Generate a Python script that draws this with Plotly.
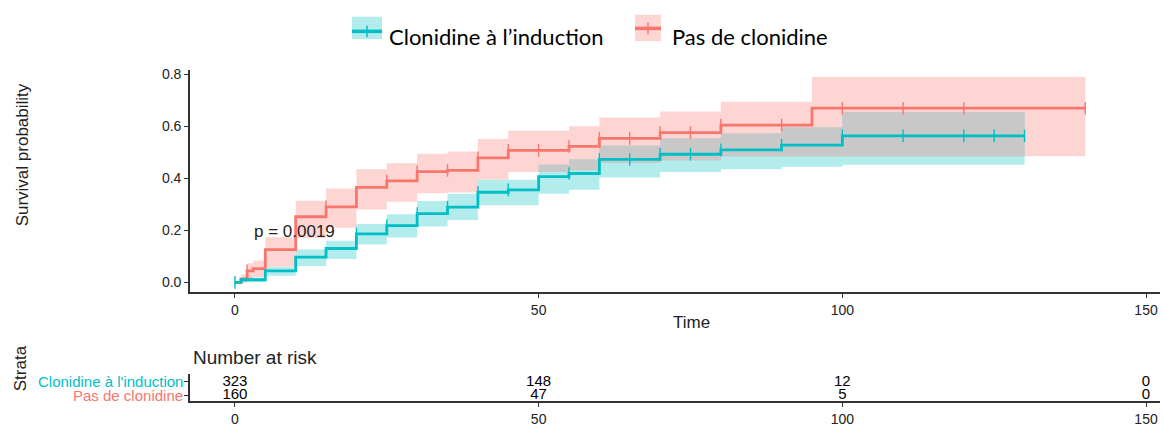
import numpy as np
import plotly.graph_objects as go

# ---------------- data ----------------
groups = ["Clonidine à l’induction", "Pas de clonidine"]
strata_labels = ["Clonidine à l'induction", "Pas de clonidine"]

times_clon = [0, 1, 5, 10, 15, 20, 25, 30, 35, 40, 45, 50, 55, 60, 70, 80, 90, 100, 130]
surv_clon = [0, 0.01, 0.044, 0.097, 0.13, 0.186, 0.218, 0.264, 0.289, 0.346, 0.355, 0.406, 0.418, 0.472, 0.492, 0.509, 0.527, 0.563, 0.563]
upper_clon = [0, 0.019, 0.059, 0.126, 0.16, 0.224, 0.262, 0.312, 0.34, 0.394, 0.394, 0.452, 0.472, 0.525, 0.553, 0.572, 0.595, 0.654, 0.654]
lower_clon = [0, 0.0, 0.025, 0.063, 0.09, 0.145, 0.172, 0.214, 0.239, 0.296, 0.296, 0.34, 0.356, 0.403, 0.424, 0.434, 0.444, 0.452, 0.452]
censor_clon = [0, 20, 25, 30, 35, 40, 45, 55, 60, 65, 70, 75, 80, 90, 100, 110, 120, 125, 130]

times_pas = [0, 1, 2, 3, 5, 10, 15, 20, 25, 30, 35, 40, 45, 55, 60, 70, 80, 95, 140]
surv_pas = [0, 0.012, 0.044, 0.053, 0.126, 0.252, 0.29, 0.365, 0.39, 0.425, 0.43, 0.478, 0.507, 0.522, 0.553, 0.575, 0.604, 0.669, 0.669]
upper_pas = [0, 0.03, 0.073, 0.084, 0.173, 0.313, 0.36, 0.434, 0.457, 0.494, 0.503, 0.551, 0.582, 0.6, 0.633, 0.656, 0.694, 0.789, 0.789]
lower_pas = [0, 0.0, 0.013, 0.02, 0.06, 0.17, 0.21, 0.28, 0.31, 0.342, 0.345, 0.395, 0.424, 0.431, 0.459, 0.469, 0.484, 0.484, 0.484]
censor_pas = [2, 15, 25, 30, 35, 40, 45, 50, 55, 60, 65, 70, 75, 80, 90, 100, 110, 120, 140]

risk_times = [0, 50, 100, 150]
risk_clon = [323, 148, 12, 0]
risk_pas = [160, 47, 5, 0]

pval_text = "p = 0.0019"
pval_pos = (2.8, 0.195)

# ---------------- style ----------------
TEAL = "#00BFC4"
RED = "#F8766D"
TEAL_FILL = "rgba(0,191,196,0.3)"
RED_FILL = "rgba(248,118,109,0.3)"
GREY_FILL = "rgb(200,200,200)"
W, H = 1164, 427
FONT = "Liberation Sans, Arial, sans-serif"
AX = "#333333"
ROW_Y = [1.4, 0.45]   # vertical slots of the two strata rows in the risk table


def step_at(times, vals, t):
    idx = np.searchsorted(np.asarray(times), np.asarray(t), side="right") - 1
    return np.asarray(vals)[idx]


fig = go.Figure()

# confidence bands
for t, lo, up, fill in [(times_pas, lower_pas, upper_pas, RED_FILL),
                        (times_clon, lower_clon, upper_clon, TEAL_FILL)]:
    fig.add_trace(go.Scatter(x=t, y=lo, mode="lines", line=dict(width=0, shape="hv"),
                             hoverinfo="skip", showlegend=False))
    fig.add_trace(go.Scatter(x=t, y=up, mode="lines", line=dict(width=0, shape="hv"),
                             fill="tonexty", fillcolor=fill, hoverinfo="skip", showlegend=False))

# overlap of the two bands (grey)
t_end = min(times_clon[-1], times_pas[-1])
t_all = sorted(set([x for x in times_clon + times_pas if x <= t_end]))
ov_lo = np.maximum(step_at(times_clon, lower_clon, t_all), step_at(times_pas, lower_pas, t_all))
ov_hi = np.minimum(step_at(times_clon, upper_clon, t_all), step_at(times_pas, upper_pas, t_all))
ov_hi = np.maximum(ov_hi, ov_lo)
fig.add_trace(go.Scatter(x=t_all, y=ov_lo, mode="lines", line=dict(width=0, shape="hv"),
                         hoverinfo="skip", showlegend=False))
fig.add_trace(go.Scatter(x=t_all, y=ov_hi, mode="lines", line=dict(width=0, shape="hv"),
                         fill="tonexty", fillcolor=GREY_FILL, hoverinfo="skip", showlegend=False))

# survival curves
for t, s, c, cens in [(times_pas, surv_pas, RED, censor_pas),
                      (times_clon, surv_clon, TEAL, censor_clon)]:
    fig.add_trace(go.Scatter(x=t, y=s, mode="lines", line=dict(color=c, width=2.8, shape="hv"),
                             showlegend=False))
    fig.add_trace(go.Scatter(x=cens, y=step_at(t, s, cens), mode="markers",
                             marker=dict(symbol="line-ns", size=9, line=dict(color=c, width=1.4)),
                             showlegend=False))

# risk table numbers
for vals, ypos in [(risk_clon, ROW_Y[0]), (risk_pas, ROW_Y[1])]:
    fig.add_trace(go.Scatter(x=risk_times, y=[ypos] * len(risk_times), mode="text",
                             text=[str(v) for v in vals], textposition="middle center",
                             textfont=dict(family=FONT, size=15, color="black"),
                             xaxis="x2", yaxis="y2", showlegend=False, hoverinfo="skip"))

xr = [-7.4, 152.3]
xdom = [190 / W, 1160 / W]
axis_common = dict(showline=True, linecolor=AX, linewidth=1.6, ticks="outside", ticklen=4,
                   tickwidth=1.2, tickcolor=AX, showgrid=False, zeroline=False,
                   tickfont=dict(family=FONT, size=14, color="#222222"))

fig.update_layout(
    width=W, height=H, margin=dict(l=0, r=0, t=0, b=0),
    paper_bgcolor="white", plot_bgcolor="white", showlegend=False,
    xaxis=dict(domain=xdom, range=xr, anchor="y", tickvals=risk_times, **axis_common),
    yaxis=dict(domain=[1 - 295 / H, 1 - 67.5 / H], range=[-0.0375, 0.816], anchor="x",
               tickvals=[0, 0.2, 0.4, 0.6, 0.8], tickformat=".1f", **axis_common),
    xaxis2=dict(domain=xdom, range=xr, anchor="y2", tickvals=risk_times, **axis_common),
    yaxis2=dict(domain=[1 - 407 / H, 1 - 378.5 / H], range=[0, 2], anchor="x2",
                tickvals=ROW_Y, showticklabels=False,
                **{k: v for k, v in axis_common.items() if k != "tickfont"}),
)


def pa(text, px, py, size, angle=0, xanchor="center", color="#222222", family=FONT):
    return dict(text=text, x=px / W, y=1 - py / H, xref="paper", yref="paper", textangle=angle,
                xanchor=xanchor, yanchor="middle", showarrow=False,
                font=dict(family=family, size=size, color=color))


ann = []
ann.append(pa("Survival probability", 22, 155, 17, angle=-90))
ann.append(pa("Time", 691, 326.5, 17))
ann.append(dict(text=pval_text, x=pval_pos[0], y=pval_pos[1], xref="x", yref="y", xanchor="left",
                yanchor="middle", showarrow=False, font=dict(family=FONT, size=17, color="#222222")))
ann.append(pa("Number at risk", 191, 362, 19, xanchor="left"))
ann.append(pa("Strata", 20, 373, 17, angle=-90))
for lab, ypos, col in [(strata_labels[0], ROW_Y[0], TEAL), (strata_labels[1], ROW_Y[1], RED)]:
    ann.append(dict(text=lab, x=185 / W, y=ypos, xref="paper", yref="y2", xanchor="right",
                    yanchor="middle", showarrow=False, font=dict(family=FONT, size=15, color=col)))

# manual legend (top)
LFONT = "Lato, Carlito, sans-serif"
shapes = []
leg = [(groups[0], TEAL, TEAL_FILL, 352, 382, 13, 36, 28, 387),
       (groups[1], RED, RED_FILL, 635, 661, 11, 38, 25, 670)]
for name, col, fill, x0, x1, y0, y1, yl, xt in leg:
    shapes.append(dict(type="rect", xref="paper", yref="paper", x0=x0 / W, x1=x1 / W,
                       y0=1 - y1 / H, y1=1 - y0 / H, fillcolor=fill, line=dict(width=0), layer="above"))
    shapes.append(dict(type="line", xref="paper", yref="paper", x0=x0 / W, x1=x1 / W,
                       y0=1 - yl / H, y1=1 - yl / H, line=dict(color=col, width=3.5), layer="above"))
    xm = (x0 + x1) / 2
    shapes.append(dict(type="line", xref="paper", yref="paper", x0=xm / W, x1=xm / W,
                       y0=1 - (yl + 6) / H, y1=1 - (yl - 6) / H, line=dict(color=col, width=1.5), layer="above"))
    ann.append(pa(name, xt, 33, 22, xanchor="left", color="black", family=LFONT))

fig.update_layout(annotations=ann, shapes=shapes)
fig.write_html("out.html", config={"displayModeBar": False},
               post_script="document.body.style.margin='0';document.body.style.padding='0';")
